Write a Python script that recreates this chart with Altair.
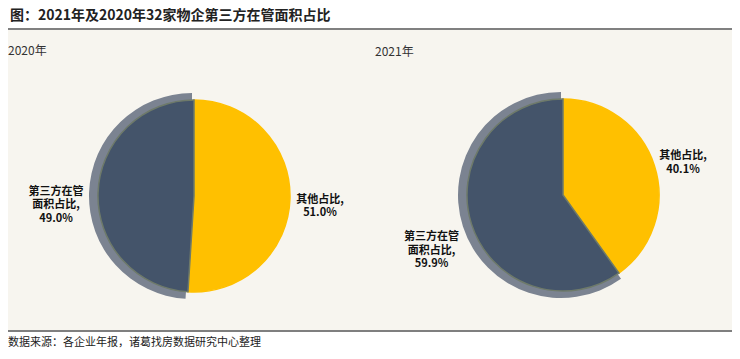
import altair as alt
import pandas as pd

# ---- data ----
title_text = "图：2021年及2020年32家物企第三方在管面积占比"
source_text = "数据来源：各企业年报，诸葛找房数据研究中心整理"
years = ["2020年", "2021年"]
categories = ["其他占比", "第三方在管面积占比"]
category_labels = ["其他占比,", "第三方在管\n面积占比,"]
values_2020 = [51.0, 49.0]
values_2021 = [40.1, 59.9]

rows = []
for yr, vals in zip(years, [values_2020, values_2021]):
    for i, (cat, lab, v) in enumerate(zip(categories, category_labels, vals)):
        rows.append({"year": yr, "category": cat, "value": v, "order": i,
                     "label": f"{lab}\n{v:.1f}%"})
df = pd.DataFrame(rows)

FONT = "Noto Sans CJK SC"
YELLOW = "#FFC000"
DARK = "#44546A"
GREY = "#7b8391"
DARK_CAT = categories[1]

one = pd.DataFrame({"k": [0]})

W, H = 724, 343

panel = alt.Chart(one).mark_rect(color="#f7f5ef").encode(
    x=alt.value(0), x2=alt.value(W), y=alt.value(22), y2=alt.value(322))
top_rule = alt.Chart(one).mark_rule(color="#808080", strokeWidth=2).encode(
    x=alt.value(0), x2=alt.value(W), y=alt.value(21))
bot_rule = alt.Chart(one).mark_rule(color="#555555", strokeWidth=1.5).encode(
    x=alt.value(0), x2=alt.value(W), y=alt.value(323))
title = alt.Chart(one).mark_text(font=FONT, fontSize=14, fontWeight="bold", align="left",
                                 baseline="middle", color="#222222").encode(
    x=alt.value(2), y=alt.value(8), text=alt.value(title_text))
footer = alt.Chart(one).mark_text(font=FONT, fontSize=11, align="left",
                                  baseline="middle", color="#222222").encode(
    x=alt.value(0), y=alt.value(335), text=alt.value(source_text))

theta = alt.Theta("value:Q", stack=True, scale=alt.Scale(domain=[0, 100]))
theta_mid = alt.Theta("mid:Q", stack=None, scale=alt.Scale(domain=[0, 100]))
color = alt.Color("category:N", scale=alt.Scale(domain=categories, range=[YELLOW, DARK]),
                  legend=None)
order = alt.Order("order:Q")

centers = {"2020年": (186, 188, 0, 43), "2021年": (555, 187, 367, 44)}

layers = [panel, top_rule, bot_rule, title, footer]
for yr in years:
    cx, cy, tx, ty = centers[yr]
    base = alt.Chart(df).transform_filter(alt.datum.year == yr)
    ring = base.mark_arc(outerRadius=103, fill=GREY).encode(
        theta=theta, order=order, x=alt.value(cx - 2), y=alt.value(cy),
        opacity=alt.condition(alt.datum.category == DARK_CAT, alt.value(1), alt.value(0)))
    pie = base.mark_arc(outerRadius=96).encode(
        theta=theta, color=color, order=order, x=alt.value(cx), y=alt.value(cy),
        stroke=alt.condition(alt.datum.category == DARK_CAT, alt.value("#6e7a6a"), alt.value(YELLOW)),
        strokeWidth=alt.value(1.5))
    stacked = base.transform_stack(
        stack="value", groupby=["year"], sort=[alt.SortField("order")], as_=["v0", "v1"]
    ).transform_calculate(mid="(datum.v0 + datum.v1) / 2")
    txt = dict(font=FONT, fontSize=11, fontWeight="bold", lineBreak="\n", align="center",
               baseline="middle", color="#111111", lineHeight=13.5)
    lab_y = stacked.transform_filter(alt.datum.category != DARK_CAT).mark_text(
        radius=126, **txt).encode(
        theta=theta_mid, x=alt.value(cx), y=alt.value(cy), text="label:N")
    lab_d = stacked.transform_filter(alt.datum.category == DARK_CAT).mark_text(
        radius=138, **txt).encode(
        theta=theta_mid, x=alt.value(cx), y=alt.value(cy), text="label:N")
    yr_label = alt.Chart(one).mark_text(font=FONT, fontSize=12, align="left",
                                        baseline="middle", color="#333333").encode(
        x=alt.value(tx), y=alt.value(ty), text=alt.value(yr))
    layers += [ring, pie, lab_y, lab_d, yr_label]

chart = alt.layer(*layers).properties(
    width=W, height=H, padding=0, background="white",
    autosize=alt.AutoSizeParams(type="none"),
).configure_view(stroke=None)

chart.save("out.html", embed_options={"renderer": "svg", "actions": False})
